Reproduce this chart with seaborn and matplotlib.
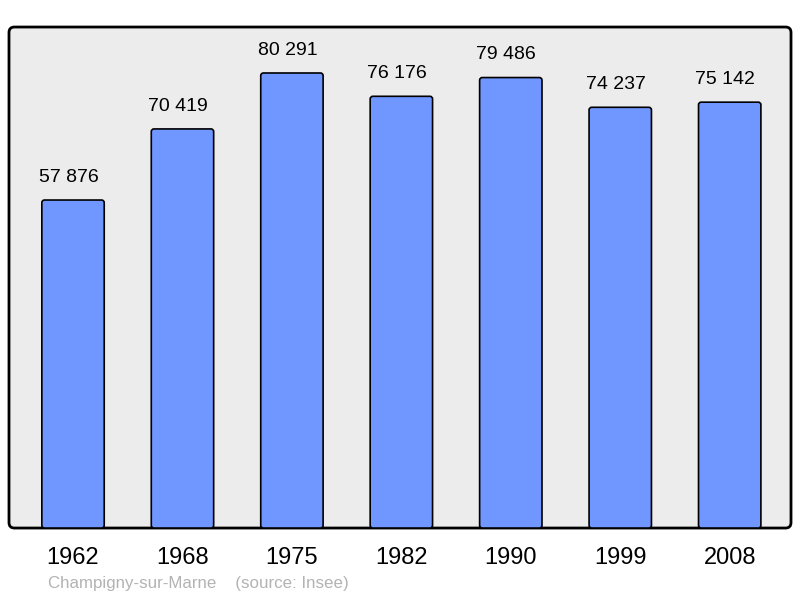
import numpy as np
import pandas as pd
import matplotlib
matplotlib.use("Agg")
import matplotlib.pyplot as plt
import matplotlib.transforms as mtransforms
from matplotlib.patches import FancyBboxPatch
import seaborn as sns

# population data
years = ["1962", "1968", "1975", "1982", "1990", "1999", "2008"]
population = [57876, 70419, 80291, 76176, 79486, 74237, 75142]
labels = ["57 876", "70 419", "80 291", "76 176", "79 486", "74 237", "75 142"]

df = pd.DataFrame({"year": years, "population": population})

sns.set_style("white")
plt.rcParams["font.family"] = ["Liberation Sans", "DejaVu Sans"]

fig = plt.figure(figsize=(8, 5.98), dpi=100)
ax = fig.add_axes([0.01125, 0.117, 0.9775, 0.8378])

# rounded background frame inside the axes
ax.set_facecolor("none")
for s in ax.spines.values():
    s.set_visible(False)
frame = FancyBboxPatch((0, 0), 1, 1,
                       boxstyle="round,pad=0,rounding_size=0.007",
                       mutation_aspect=782 / 501,
                       transform=ax.transAxes, facecolor="#ececec",
                       edgecolor="black", linewidth=2, zorder=0,
                       clip_on=False)
ax.add_patch(frame)

sns.barplot(data=df, x="year", y="population", color="#7096ff",
            width=0.57, saturation=1, ax=ax)

# swap the plain rectangles for rounded ones
for p in list(ax.patches):
    if p is frame:
        continue
    x, y, w, h = p.get_x(), p.get_y(), p.get_width(), p.get_height()
    p.remove()
    rb = FancyBboxPatch((x, y), w, h,
                        boxstyle="round,pad=0,rounding_size=0.025",
                        mutation_aspect=19000,
                        facecolor="#7096ff", edgecolor="black",
                        linewidth=1.2, zorder=2)
    ax.add_patch(rb)

# value labels sit a little left of the bar centre in the original
shift = mtransforms.offset_copy(ax.transData, fig=fig, x=-4.5, y=0, units="dots")
for i, (v, t) in enumerate(zip(population, labels)):
    ax.text(i, v + 2500, t, ha="center", va="bottom", fontsize=14,
            color="black", zorder=3, transform=shift)

ax.set_xlim(-0.585, 6.56)
ax.set_ylim(0, 88400)
ax.set_yticks([])
ax.set_xlabel("")
ax.set_ylabel("")
ax.tick_params(axis="x", length=0, pad=14, labelsize=17, labelcolor="black")

fig.text(0.06, 0.025, "Champigny-sur-Marne    (source: Insee)",
         fontsize=12.2, color="#b3b3b3", ha="left", va="center")

fig.savefig("out.png", dpi=100)
